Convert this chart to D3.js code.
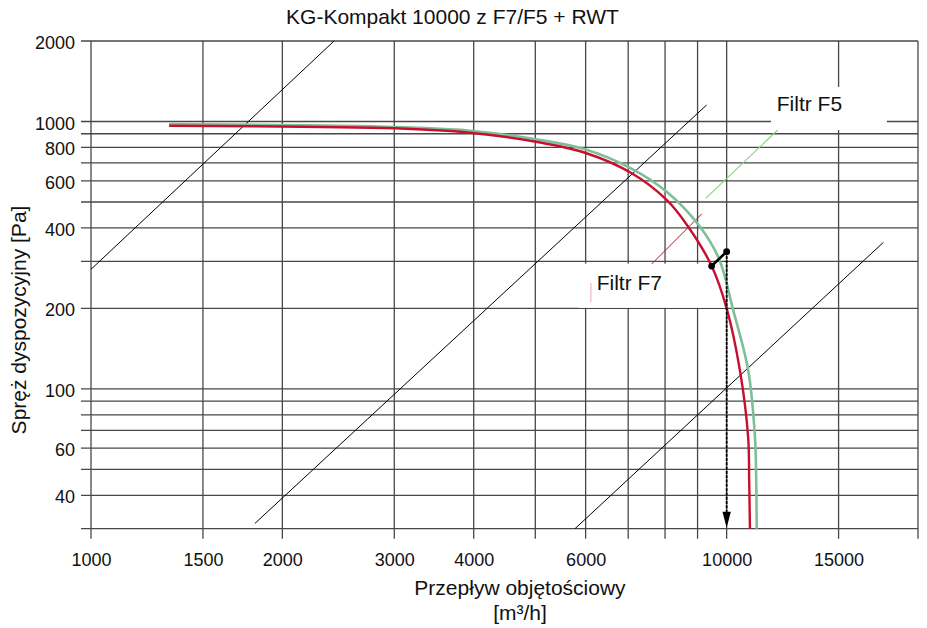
<!DOCTYPE html>
<html>
<head>
<meta charset="utf-8">
<script src="https://cdn.jsdelivr.net/npm/d3@7"></script>
<style>
  html, body { margin: 0; padding: 0; background: #fff; }
  svg { display: block; font-family: "Liberation Sans", Arial, Helvetica, sans-serif; }
</style>
</head>
<body>
<svg id="chart" width="927" height="628"></svg>
<script>
// ---------- data ----------
const title = "KG-Kompakt 10000 z F7/F5 + RWT";
const xTitle = "Przepływ objętościowy";
const xUnit = "[m³/h]";
const yTitle = "Spręż dyspozycyjny [Pa]";

const xTicks = [1000, 1500, 2000, 3000, 4000, 5000, 6000, 7000, 8000, 9000, 10000, 15000, 20000];
const xLabels = [1000, 1500, 2000, 3000, 4000, 6000, 10000, 15000];
const yTicks = [30, 40, 50, 60, 70, 80, 90, 100, 200, 300, 400, 500, 600, 700, 800, 900, 1000, 2000];
const yLabels = [40, 60, 100, 200, 400, 600, 800, 1000, 2000];

// Filtr F7 (red) curve
const f7Flow = [1327, 3008, 3947, 5012, 5985, 7070, 8047, 8700, 9471, 10000, 10490, 10810, 10850, 10880];
const f7Press = [964, 943, 908, 840, 764, 643, 509, 404, 288, 200, 117.6, 66, 45.7, 30];
// Filtr F5 (green) curve
const f5Flow = [1327, 3008, 3947, 5012, 5985, 7070, 8047, 9080, 9736, 10240, 10810, 11080, 11130, 11150];
const f5Press = [978, 954, 924, 858, 787, 668, 546, 404, 305, 197, 117.6, 66, 45.7, 30];

// system (duct) characteristic lines: [flow1, press1, flow2, press2]
const sysLine1 = [1000, 280, 2412, 2000];
const sysLine2 = [1811, 31.4, 9300, 1153];
const sysLine3 = [5773, 30, 17640, 353];

// operating point marker
const opFlow = [9471, 10000];
const opPress = [288, 326];

// labels
const f5Label = { text: "Filtr F5", flow: 11990, press: 1097 };
const f7Label = { text: "Filtr F7", flow: 6245, press: 234 };
const f5Box = [11740, 1346, 17870, 929];
const f7Box = [5836, 294, 9975, 201];
const f5Leader = [9268, 516, 12030, 929];
const f7Leader = [7620, 293, 9135, 451];
const f7Tick = [6116, 249, 6116, 211];

// ---------- layout ----------
const svg = d3.select("#chart");
const x = d3.scaleLog().domain([1000, 20000]).range([91, 918]);
const y = d3.scaleLog().domain([30, 2000]).range([528.7, 41]);

const red = "#c8102e";
const green = "#7dbf97";
const gridCol = "#474747";

// grid
const grid = svg.append("g");
grid.selectAll("line.h").data(yTicks).join("line")
  .attr("x1", x(1000) - 10).attr("x2", x(20000))
  .attr("y1", d => y(d)).attr("y2", d => y(d))
  .attr("stroke", gridCol).attr("stroke-width", 1.3);
grid.selectAll("line.v").data(xTicks).join("line")
  .attr("x1", d => x(d)).attr("x2", d => x(d))
  .attr("y1", y(2000)).attr("y2", y(30) + 10)
  .attr("stroke", gridCol).attr("stroke-width", 1.3);

// axes (labels)
const yAxis = d3.axisLeft(y).tickValues(yTicks).tickSize(10).tickPadding(6)
  .tickFormat(d => yLabels.includes(d) ? d : "");
const gy = svg.append("g").attr("transform", `translate(${x(1000)},0)`).call(yAxis);
gy.select(".domain").remove();
gy.selectAll(".tick line").remove();
gy.selectAll(".tick text").attr("font-size", 18).attr("fill", "#111")
  .attr("font-family", "Liberation Sans, Arial, sans-serif").attr("dy", "0.42em");

const xAxis = d3.axisBottom(x).tickValues(xTicks).tickSize(10).tickPadding(14.5)
  .tickFormat(d => xLabels.includes(d) ? d : "");
const gx = svg.append("g").attr("transform", `translate(0,${y(30)})`).call(xAxis);
gx.select(".domain").remove();
gx.selectAll(".tick line").remove();
gx.selectAll(".tick text").attr("font-size", 18).attr("fill", "#111")
  .attr("font-family", "Liberation Sans, Arial, sans-serif");

// system lines
[sysLine1, sysLine2, sysLine3].forEach(l => {
  svg.append("line")
    .attr("x1", x(l[0])).attr("y1", y(l[1]))
    .attr("x2", x(l[2])).attr("y2", y(l[3]))
    .attr("stroke", "#000").attr("stroke-width", 1);
});

// white label boxes
[f5Box, f7Box].forEach(b => {
  svg.append("rect")
    .attr("x", x(b[0])).attr("y", y(b[1]))
    .attr("width", x(b[2]) - x(b[0])).attr("height", y(b[3]) - y(b[1]))
    .attr("fill", "#fff");
});

// leaders
svg.append("line")
  .attr("x1", x(f5Leader[0])).attr("y1", y(f5Leader[1]))
  .attr("x2", x(f5Leader[2])).attr("y2", y(f5Leader[3]))
  .attr("stroke", "#8fd18a").attr("stroke-width", 1.2);
svg.append("line")
  .attr("x1", x(f7Leader[0])).attr("y1", y(f7Leader[1]))
  .attr("x2", x(f7Leader[2])).attr("y2", y(f7Leader[3]))
  .attr("stroke", red).attr("stroke-width", 1);
svg.append("line")
  .attr("x1", x(f7Tick[0])).attr("y1", y(f7Tick[1]))
  .attr("x2", x(f7Tick[2])).attr("y2", y(f7Tick[3]))
  .attr("stroke", "#f2a7b6").attr("stroke-width", 1);

// curves
const lineGen = d3.line().curve(d3.curveCatmullRom.alpha(0.5));
const f5Pts = f5Flow.map((f, i) => [x(f), y(f5Press[i])]);
const f7Pts = f7Flow.map((f, i) => [x(f), y(f7Press[i])]);
svg.append("path").attr("d", lineGen(f5Pts)).attr("fill", "none")
  .attr("stroke", green).attr("stroke-width", 2.6);
svg.append("path").attr("d", lineGen(f7Pts)).attr("fill", "none")
  .attr("stroke", red).attr("stroke-width", 2.4);

// operating point: dotted drop line + arrow
const ax = x(opFlow[1]);
svg.append("line")
  .attr("x1", ax).attr("x2", ax)
  .attr("y1", y(opPress[1])).attr("y2", y(30) - 14)
  .attr("stroke", "#000").attr("stroke-width", 1.8).attr("stroke-dasharray", "3,1.3");
svg.append("path")
  .attr("d", `M${ax - 4.2},${y(30) - 17} L${ax + 4.2},${y(30) - 17} L${ax},${y(30) - 1} Z`)
  .attr("fill", "#000");
svg.append("line")
  .attr("x1", x(opFlow[0])).attr("y1", y(opPress[0]))
  .attr("x2", x(opFlow[1])).attr("y2", y(opPress[1]))
  .attr("stroke", "#000").attr("stroke-width", 2.6);
svg.selectAll("circle.op").data(opFlow).join("circle")
  .attr("cx", d => x(d)).attr("cy", (d, i) => y(opPress[i])).attr("r", 3.4).attr("fill", "#000");

// label texts
svg.append("text").attr("x", x(f5Label.flow)).attr("y", y(f5Label.press))
  .attr("font-size", 21).attr("fill", "#111").text(f5Label.text);
svg.append("text").attr("x", x(f7Label.flow)).attr("y", y(f7Label.press))
  .attr("font-size", 21).attr("fill", "#111").text(f7Label.text);

// titles
svg.append("text").attr("x", 452.5).attr("y", 24).attr("text-anchor", "middle")
  .attr("font-size", 21).attr("fill", "#111").text(title);
svg.append("text").attr("x", 520).attr("y", 595).attr("text-anchor", "middle")
  .attr("font-size", 21).attr("fill", "#111").text(xTitle);
svg.append("text").attr("x", 520).attr("y", 620).attr("text-anchor", "middle")
  .attr("font-size", 21).attr("fill", "#111").text(xUnit);
svg.append("text").attr("transform", "translate(26,320) rotate(-90)").attr("text-anchor", "middle")
  .attr("font-size", 21).attr("fill", "#111").text(yTitle);
</script>
</body>
</html>
